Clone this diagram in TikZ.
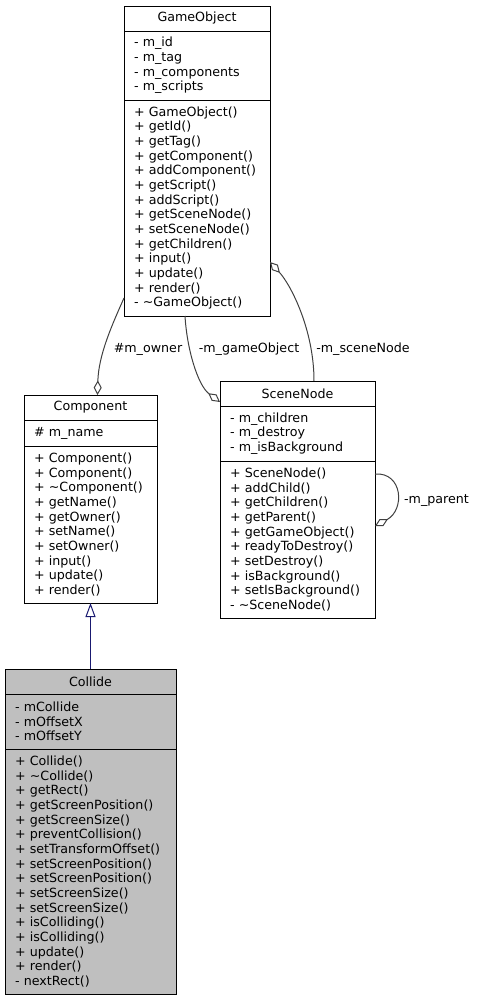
\documentclass[tikz,border=0pt]{standalone}
\usepackage{fontspec}
\setmainfont{DejaVu Sans}
\usepackage{tikz}
\usetikzlibrary{arrows.meta, positioning, calc}
\definecolor{edgegray}{HTML}{404040}
\definecolor{navyline}{HTML}{191970}
\definecolor{focusfill}{HTML}{BFBFBF}
\newcommand{\umlfont}{\fontsize{9.5}{11}\selectfont}
\tikzstyle{classhead} = [rectangle, draw=black, fill=white, line width=0.75pt, minimum height=18.75pt, inner sep=0pt, outer sep=0pt, text centered, font=\umlfont]
\tikzstyle{classbody} = [rectangle, draw=black, fill=white, line width=0.75pt, inner xsep=7.5pt, inner ysep=0pt, outer sep=0pt, align=left, font=\umlfont]
\tikzstyle{aggr} = [draw=edgegray, line width=0.75pt, -{Diamond[open, length=11pt, width=6pt]}]
\tikzstyle{inherit} = [draw=navyline, line width=0.75pt, -{Triangle[open, length=10.5pt, width=7.5pt]}]
\tikzstyle{rolelabel} = [inner sep=0pt, anchor=base, font=\umlfont]

\begin{document}
\begin{tikzpicture}[x=0.75pt, y=-0.75pt]
    \useasboundingbox (0,0) rectangle (476,1000);

    % GameObject
    \node (goH) [classhead, minimum width=109.5pt, anchor=north] at (197,6) {GameObject};
    \node (goA) [classbody, text width=94.5pt, minimum height=51.75pt, below=0pt of goH] {- m\_id\\- m\_tag\\- m\_components\\- m\_scripts};
    \node (goM) [classbody, text width=94.5pt, minimum height=162pt, below=0pt of goA] {+ GameObject()\\+ getId()\\+ getTag()\\+ getComponent()\\+ addComponent()\\+ getScript()\\+ addScript()\\+ getSceneNode()\\+ setSceneNode()\\+ getChildren()\\+ input()\\+ update()\\+ render()\\- \textasciitilde GameObject()};

    % Component
    \node (cpH) [classhead, minimum width=99.75pt, anchor=north] at (90.5,395) {Component};
    \node (cpA) [classbody, text width=84.75pt, minimum height=19.5pt, below=0pt of cpH] {\# m\_name};
    \node (cpM) [classbody, text width=84.75pt, minimum height=117.75pt, below=0pt of cpA] {+ Component()\\+ Component()\\+ \textasciitilde Component()\\+ getName()\\+ getOwner()\\+ setName()\\+ setOwner()\\+ input()\\+ update()\\+ render()};

    % SceneNode
    \node (snH) [classhead, minimum width=116.25pt, anchor=north] at (297.5,381) {SceneNode};
    \node (snA) [classbody, text width=101.25pt, minimum height=41.25pt, below=0pt of snH] {- m\_children\\- m\_destroy\\- m\_isBackground};
    \node (snM) [classbody, text width=101.25pt, minimum height=117.75pt, below=0pt of snA] {+ SceneNode()\\+ addChild()\\+ getChildren()\\+ getParent()\\+ getGameObject()\\+ readyToDestroy()\\+ setDestroy()\\+ isBackground()\\+ setIsBackground()\\- \textasciitilde SceneNode()};

    % Collide
    \node (clH) [classhead, fill=focusfill, minimum width=128.25pt, anchor=north] at (90.5,669) {Collide};
    \node (clA) [classbody, fill=focusfill, text width=113.25pt, minimum height=41.25pt, below=0pt of clH] {- mCollide\\- mOffsetX\\- mOffsetY};
    \node (clM) [classbody, fill=focusfill, text width=113.25pt, minimum height=183.75pt, below=0pt of clA] {+ Collide()\\+ \textasciitilde Collide()\\+ getRect()\\+ getScreenPosition()\\+ getScreenSize()\\+ preventCollision()\\+ setTransformOffset()\\+ setScreenPosition()\\+ setScreenPosition()\\+ setScreenSize()\\+ setScreenSize()\\+ isColliding()\\+ isColliding()\\+ update()\\+ render()\\- nextRect()};

    % Role labels
    \node (lowner) [rolelabel] at (148,352) {\#m\_owner};
    \node (lgame) [rolelabel] at (249,352) {-m\_gameObject};
    \node (lscene) [rolelabel] at (363,352) {-m\_sceneNode};
    \node (lparent) [rolelabel] at (436.5,503) {-m\_parent};

    % Arrows
    \draw [aggr] ($(goM.south west)+(0,-18)$) .. controls ($(goM.south west)+(-12,9)$) and ($(cpH.north)+(8,-40)$) .. ($(cpH.north)+(7,0)$);
    \draw [aggr] ($(goM.south)+(-12,0)$) .. controls ($(goM.south)+(-10,34)$) and ($(snH.west)+(-22,-8)$) .. ($(snH.west)+(0,8.5)$);
    \draw [aggr] ($(snH.north)+(16.5,0)$) .. controls ($(snH.north)+(16.5,-51)$) and ($(goM.east)+(21,77)$) .. ($(goM.east)+(0,54)$);
    \draw [aggr] ($(snM.north east)+(0,13)$) .. controls ($(snM.north east)+(28,11)$) and ($(snM.north east)+(30,49)$) .. ($(snM.north east)+(0,65)$);
    \draw [inherit] (clH.north) -- (cpM.south);
\end{tikzpicture}
\end{document}
